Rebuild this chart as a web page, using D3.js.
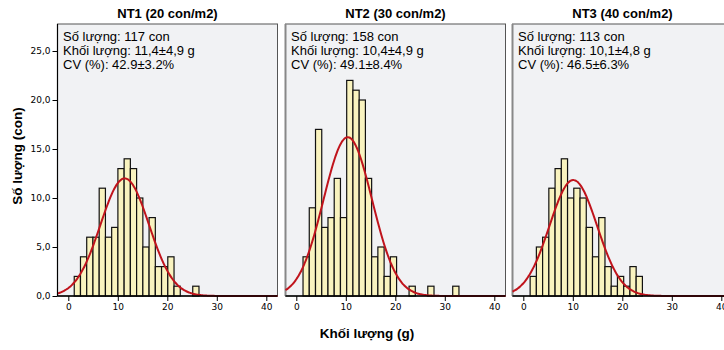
<!DOCTYPE html>
<html>
<head>
<meta charset="utf-8">
<script src="https://cdn.jsdelivr.net/npm/d3@7"></script>
<style>
  html, body { margin: 0; padding: 0; background: #ffffff; }
  svg { display: block; }
  text { font-family: "Liberation Sans", Arial, sans-serif; fill: #000; }
</style>
</head>
<body>
<svg id="chart" width="724" height="350"></svg>
<script>
// Weight distributions of fish per stocking density treatment
const panelTitles = ["NT1 (20 con/m2)", "NT2 (30 con/m2)", "NT3 (40 con/m2)"];
const sampleSizes = [117, 158, 113];
const meanWeights = [11.4, 10.4, 10.1];
const sdWeights = [4.9, 4.9, 4.8];
const cvLabels = ["42.9±3.2%", "49.1±8.4%", "46.5±6.3%"];

// Histogram bins (g): first bin edge per treatment, shared bin width
const binStarts = [1.2, 1.36, 1.38];
const binWidth = 1.26;
const countsNT1 = [2, 4, 6, 6, 11, 6, 7, 13, 14, 13, 10, 5, 8, 3, 3, 4, 1, 0, 0, 1];
const countsNT2 = [4, 9, 17, 7, 8, 12, 8, 22, 21, 20, 12, 4, 5, 2, 4, 0, 0, 1, 0, 0, 1, 0, 0, 0, 1];
const countsNT3 = [2, 5, 6, 11, 13, 14, 10, 11, 10, 7, 4, 8, 3, 1, 2, 1, 3, 2];
const binCounts = [countsNT1, countsNT2, countsNT3];

const xTicks = [0, 10, 20, 30, 40];
const yTicks = [0, 5, 10, 15, 20, 25];
const yTitle = "Số lượng (con)";
const xTitle = "Khối lượng (g)";

const svg = d3.select("#chart");

const panelLefts = [57.5, 285.5, 512.5];
const panelWidth = 220;
const plotTop = 24;
const plotBottom = 296;
const tickFont = "'DejaVu Sans', Verdana, sans-serif";

const y = d3.scaleLinear().domain([0, 25]).range([plotBottom, 51]);
const fmtComma = v => d3.format(".1f")(v).replace(".", ",");

const normalPdf = (v, m, s) => Math.exp(-0.5 * ((v - m) / s) ** 2) / (s * Math.sqrt(2 * Math.PI));

panelLefts.forEach((left, i) => {
  const x = d3.scaleLinear().domain([0, 40]).range([left + 10.8, left + 10.8 + 198]);
  const xMin = x.invert(left), xMax = x.invert(left + panelWidth);
  const g = svg.append("g");

  // panel title
  g.append("text")
    .attr("x", left + panelWidth / 2).attr("y", 18.3)
    .attr("text-anchor", "middle")
    .style("font-weight", "bold").style("font-size", "13px")
    .text(panelTitles[i]);

  // plot background and frame
  g.append("rect")
    .attr("x", left).attr("y", plotTop)
    .attr("width", panelWidth).attr("height", plotBottom - plotTop)
    .attr("fill", "#f1f2f4").attr("stroke", "#555").attr("stroke-width", 1);

  if (i > 0) {
    g.append("line")
      .attr("x1", left).attr("x2", left).attr("y1", plotTop).attr("y2", plotBottom)
      .attr("stroke", "#888").attr("stroke-width", 2);
  }

  // histogram bars
  const bins = binCounts[i].map((c, k) => ({
    x0: binStarts[i] + k * binWidth,
    x1: binStarts[i] + (k + 1) * binWidth,
    count: c
  })).filter(b => b.count > 0);

  g.selectAll("rect.bar").data(bins).join("rect")
    .attr("class", "bar")
    .attr("x", d => x(d.x0))
    .attr("width", d => x(d.x1) - x(d.x0))
    .attr("y", d => y(d.count))
    .attr("height", d => y(0) - y(d.count))
    .attr("fill", "#f9f3bf")
    .attr("stroke", "#111").attr("stroke-width", 1.2);

  // fitted normal curve
  const scaleN = sampleSizes[i] * binWidth;
  const pts = d3.range(0, 201).map(k => {
    const v = xMin + (xMax - xMin) * k / 200;
    return [v, scaleN * normalPdf(v, meanWeights[i], sdWeights[i])];
  });
  g.append("path")
    .datum(pts)
    .attr("fill", "none")
    .attr("stroke", "#c0141c").attr("stroke-width", 2)
    .attr("d", d3.line().x(d => x(d[0])).y(d => y(d[1])).curve(d3.curveBasis));

  // summary text
  const lines = [
    "Số lượng: " + sampleSizes[i] + " con",
    "Khối lượng: " + fmtComma(meanWeights[i]) + "±" + fmtComma(sdWeights[i]) + " g",
    "CV (%): " + cvLabels[i]
  ];
  g.selectAll("text.info").data(lines).join("text")
    .attr("class", "info")
    .attr("x", left + 5.5)
    .attr("y", (d, k) => 40.5 + k * 14)
    .style("font-size", "13px")
    .text(d => d);

  // x axis
  const xAxis = d3.axisBottom(x).tickValues(xTicks).tickSize(5).tickSizeOuter(0).tickFormat(d3.format("d"));
  const ax = g.append("g").attr("transform", `translate(0,${plotBottom})`).call(xAxis);
  ax.select(".domain").remove();
  ax.selectAll(".tick line").attr("stroke", "#000");
  ax.selectAll(".tick text").attr("y", 8).style("font-size", "9px")
    .style("font-family", tickFont);
  g.append("line")
    .attr("x1", left).attr("x2", left + panelWidth)
    .attr("y1", plotBottom).attr("y2", plotBottom)
    .attr("stroke", "#000").attr("stroke-width", 1.6);
});

// y axis on the first panel
const yAxis = d3.axisLeft(y).tickValues(yTicks).tickSize(5).tickSizeOuter(0).tickFormat(fmtComma);
const ay = svg.append("g").attr("transform", `translate(${panelLefts[0]},0)`).call(yAxis);
ay.select(".domain").remove();
ay.selectAll(".tick line").attr("stroke", "#000");
ay.selectAll(".tick text").attr("x", -7).style("font-size", "9px")
  .style("font-family", tickFont);
svg.append("line")
  .attr("x1", panelLefts[0]).attr("x2", panelLefts[0])
  .attr("y1", plotTop).attr("y2", plotBottom)
  .attr("stroke", "#000").attr("stroke-width", 1.2);

// axis titles
svg.append("text")
  .attr("transform", "translate(22,156) rotate(-90)")
  .attr("text-anchor", "middle")
  .style("font-weight", "bold").style("font-size", "13.5px")
  .text(yTitle);

svg.append("text")
  .attr("x", 367).attr("y", 338)
  .attr("text-anchor", "middle")
  .style("font-weight", "bold").style("font-size", "13.5px")
  .text(xTitle);
</script>
</body>
</html>
